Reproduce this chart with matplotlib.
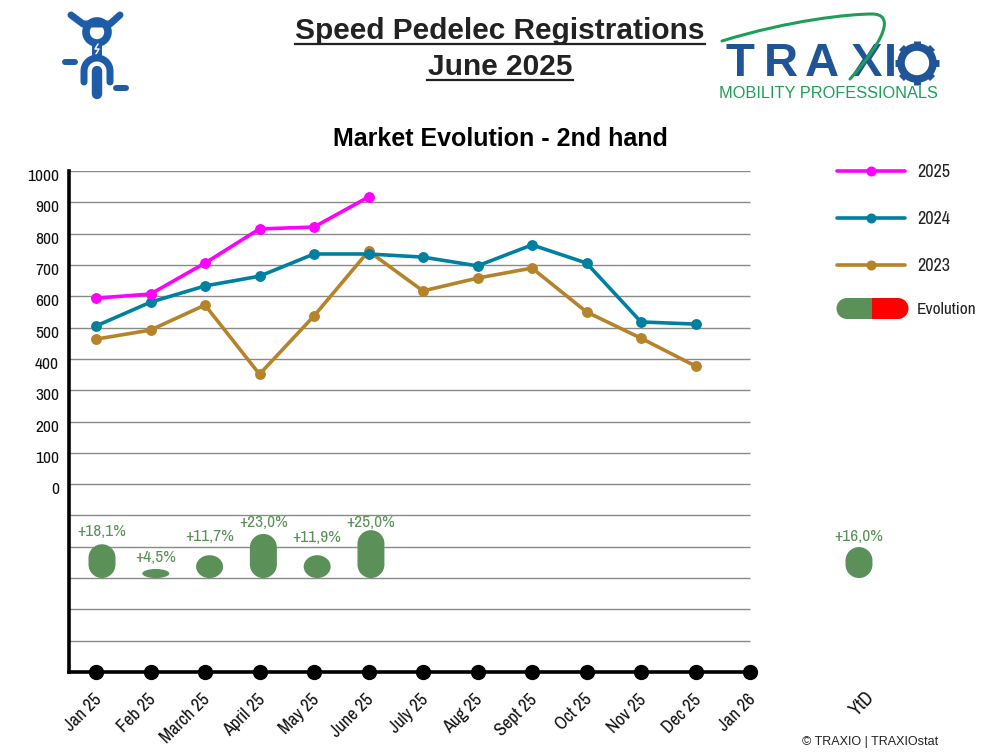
import matplotlib
matplotlib.use("Agg")
import matplotlib.pyplot as plt
import matplotlib.transforms as mtrans
import numpy as np
from matplotlib.patches import Circle, PathPatch, Rectangle, Wedge
from matplotlib.path import Path

plt.rcParams["font.family"] = ["Liberation Sans", "DejaVu Sans"]

months = ["Jan 25", "Feb 25", "March 25", "April 25", "May 25", "June 25", "July 25",
          "Aug 25", "Sept 25", "Oct 25", "Nov 25", "Dec 25", "Jan 26"]
y2025 = [594, 607, 706, 815, 821, 917]
y2024 = [505, 581, 633, 664, 735, 735, 725, 697, 764, 706, 518, 511]
y2023 = [463, 492, 572, 351, 537, 744, 617, 658, 690, 550, 466, 377]
evo_labels = ["+18,1%", "+4,5%", "+11,7%", "+23,0%", "+11,9%", "+25,0%"]
evo_heights = [108, 29, 73, 141, 73, 153]
ytd_label = "+16,0%"
ytd_height = 99

BLUE = "#1F5CA8"
LOGO_BLUE = "#1F5596"
LOGO_GREEN = "#1E9E5A"
GREEN = "#5B9159"
C25, C24, C23 = "#FF00FF", "#00809F", "#B5832A"
NARROW = ["Archivo Narrow", "Liberation Sans"]

fig = plt.figure(figsize=(10, 7.56), dpi=100)

# overlay in pixel coordinates for titles, logos and legend
bg = fig.add_axes([0, 0, 1, 1])
bg.set_xlim(0, 1000)
bg.set_ylim(756, 0)
bg.axis("off")

bg.text(500, 31, "Speed Pedelec Registrations", ha="center", va="center", fontsize=21.5, fontweight="bold", color="#222222")
bg.text(500, 67, "June 2025", ha="center", va="center", fontsize=21.5, fontweight="bold", color="#222222")
bg.plot([295, 705], [44, 44], color="#222222", lw=1.6)
bg.plot([427, 573], [80, 80], color="#222222", lw=1.6)
bg.text(500, 139, "Market Evolution - 2nd hand", ha="center", va="center", fontsize=18, fontweight="bold")
bg.text(802, 741.5, "© TRAXIO | TRAXIOstat", ha="left", va="center", fontsize=9, color="#222222")

# rider icon
def icon_line(xs, ys, width):
    bg.plot(xs, ys, color=BLUE, lw=width * 0.72, solid_capstyle="round", solid_joinstyle="round")

icon_line([71, 83, 110, 120], [15, 24, 24, 15], 7)
bg.add_patch(Circle((97, 32), 11, fc="white", ec=BLUE, lw=5.5))
bg.add_patch(Rectangle((92, 42), 10, 14, fc=BLUE, ec="none"))
icon_line([98, 95, 99, 96], [44, 49, 49, 54], 1.5)
bg.lines[-1].set_color("white")
t = np.linspace(np.pi, 2 * np.pi, 30)
icon_line(np.r_[84, 97 + 13 * np.cos(t), 110], np.r_[82, 71 + 13 * np.sin(t), 82], 7)
bg.add_patch(Rectangle((89, 66), 16, 34, fc="white", ec="none", zorder=3))
bg.plot([97, 97], [71, 94], color=BLUE, lw=7.5, solid_capstyle="round", zorder=4)
icon_line([65, 75], [62, 62], 6)
icon_line([116, 126], [88, 88], 6)

# traxio logo
for letter, cx in zip("TRAXI", [739.5, 781, 822, 866, 890]):
    bg.text(cx, 63.5, letter, color=LOGO_BLUE, fontsize=34, fontweight="bold", ha="center", va="center")
swoosh = Path([(722, 41), (790, 20), (850, 14), (872, 14), (895, 14), (885, 40), (850, 79)],
              [Path.MOVETO, Path.CURVE4, Path.CURVE4, Path.CURVE4, Path.CURVE4, Path.CURVE4, Path.CURVE4])
bg.add_patch(PathPatch(swoosh, fc="none", ec=LOGO_GREEN, lw=2.2, capstyle="round", zorder=3))
bg.add_patch(Circle((917, 63), 16, fc="white", ec=LOGO_BLUE, lw=5.5))
for a in np.arange(0, 360, 45):
    ca, sa = np.cos(np.radians(a)), np.sin(np.radians(a))
    bg.plot([917 + 17 * ca, 917 + 22 * ca], [63 + 17 * sa, 63 + 22 * sa], color=LOGO_BLUE, lw=5, solid_capstyle="butt")
bg.text(828.5, 94, "MOBILITY PROFESSIONALS", color=LOGO_GREEN, fontsize=11.8, ha="center", va="center")

# legend
for ly, col, lab in [(171, C25, "2025"), (218, C24, "2024"), (265, C23, "2023")]:
    bg.plot([837, 905], [ly, ly], color=col, lw=2.6, solid_capstyle="round")
    bg.plot([871], [ly], "o", color=col, ms=6.2)
    bg.text(917, ly + 1, lab, va="center", fontsize=13, family=NARROW, color="#222222")
bg.add_patch(Wedge((847, 308.5), 10.5, 90, 270, fc=GREEN, ec="none"))
bg.add_patch(Rectangle((847, 298), 25, 21, fc=GREEN, ec="none"))
bg.add_patch(Rectangle((872, 298), 26, 21, fc="red", ec="none"))
bg.add_patch(Wedge((898, 308.5), 10.5, 270, 90, fc="red", ec="none"))
bg.text(917, 310, "Evolution", va="center", fontsize=12.5, family=NARROW, color="#222222")

# main chart, x pixel = 96 + 54.5 * i, y pixel = 484 - 0.313 * value
ax = fig.add_axes([68.75 / 1000, (756 - 672) / 756, (913.5 - 68.75) / 1000, (672 - 171) / 756])
ax.patch.set_alpha(0)
ax.set_xlim(-0.5, 15)
ax.set_ylim(-600, 1000)

grid_levels = np.arange(-500, 1001, 100)
ax.hlines(grid_levels, -0.5, 12, color="#8a8a8a", lw=1.0, zorder=1)

x = np.arange(len(months))
ax.plot(x[:12], y2023, "-o", color=C23, lw=2.6, ms=6.8, zorder=3)
ax.plot(x[:12], y2024, "-o", color=C24, lw=2.6, ms=6.8, zorder=4)
ax.plot(x[:6], y2025, "-o", color=C25, lw=2.6, ms=6.8, zorder=5)

ax.scatter(x, [-600] * len(x), s=100, color="black", clip_on=False, zorder=6)


def pill(xc, h, base=-300, w=0.495):
    # rounded bar, corners stay round on screen
    ry = min(h / 2, (w / 2) * 54.5 / 0.313)
    rx = w / 2
    k = 0.5523
    l, r, b, t_ = xc - rx, xc + rx, base, base + h
    verts = [(l, b + ry), (l, t_ - ry),
             (l, t_ - ry + k * ry), (xc - k * rx, t_), (xc, t_),
             (xc + k * rx, t_), (r, t_ - ry + k * ry), (r, t_ - ry),
             (r, b + ry),
             (r, b + ry - k * ry), (xc + k * rx, b), (xc, b),
             (xc - k * rx, b), (l, b + ry - k * ry), (l, b + ry),
             (l, b + ry)]
    codes = [Path.MOVETO, Path.LINETO] + [Path.CURVE4] * 6 + [Path.LINETO] + [Path.CURVE4] * 6 + [Path.CLOSEPOLY]
    ax.add_patch(PathPatch(Path(verts, codes), fc=GREEN, ec="none", zorder=3))


label_pad = [42, 36, 60, 38, 58, 25]
for i, (lab, h) in enumerate(zip(evo_labels, evo_heights)):
    xc = 0.11 + i * 0.987
    pill(xc, h)
    ax.text(xc, -300 + h + label_pad[i], lab, color=GREEN, ha="center", va="center", fontsize=12.5, family=NARROW, zorder=7)
pill(14, ytd_height)
ax.text(14, -300 + ytd_height + 35, ytd_label, color=GREEN, ha="center", va="center", fontsize=12.5, family=NARROW)

for side in ["top", "right"]:
    ax.spines[side].set_visible(False)
ax.spines["left"].set_linewidth(2.6)
ax.spines["bottom"].set_linewidth(2.6)
ax.spines["bottom"].set_bounds(-0.5, 12)

ax.set_yticks(np.arange(0, 1001, 100))
ax.set_yticklabels([str(v) for v in range(0, 1001, 100)], family=NARROW, fontsize=12.5, color="#111111")
ax.tick_params(axis="y", length=0, pad=7)
shift = mtrans.ScaledTranslation(0, -4 / 100, fig.dpi_scale_trans)
for lbl in ax.get_yticklabels():
    lbl.set_transform(lbl.get_transform() + shift)

ax.set_xticks(list(x) + [14])
ax.set_xticklabels(months + ["YtD"], rotation=45, ha="right", rotation_mode="anchor", family=NARROW, fontsize=13, color="#111111")
ax.tick_params(axis="x", length=0, pad=14)
xshift = mtrans.ScaledTranslation(-3 / 100, 0, fig.dpi_scale_trans)
for lbl in ax.get_xticklabels()[:-1]:
    lbl.set_transform(lbl.get_transform() + xshift)
ytd_tick = ax.get_xticklabels()[-1]
ytd_tick.set_fontsize(14)
ytd_tick.set_transform(ytd_tick.get_transform() + mtrans.ScaledTranslation(6 / 100, 4 / 100, fig.dpi_scale_trans))

fig.savefig("out.png", dpi=100)
